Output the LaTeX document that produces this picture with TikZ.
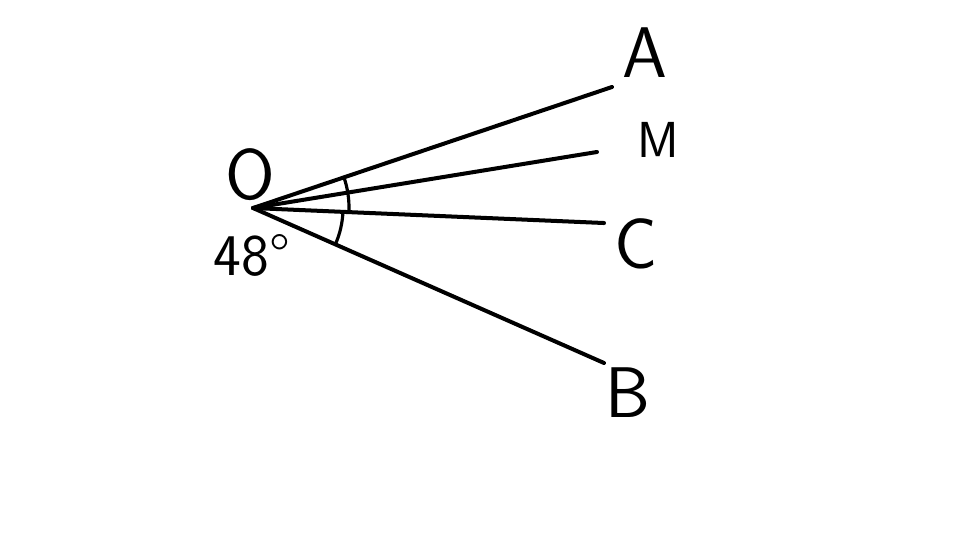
\documentclass[tikz,border=0pt]{standalone}
\usepackage{tikz}
\usepackage{amsmath}

\tikzset{
	ray/.style={line width=1.9pt, line cap=round},
	anglearc/.style={line width=1.5pt},
	letter/.style={font=\sffamily\fontsize{34}{34}\selectfont, inner sep=0pt}
}

\begin{document}
\begin{tikzpicture}
		\useasboundingbox (0, 0) rectangle (16, 9);
		\coordinate (O) at (4.217, 5.533);
		\coordinate (Aend) at (10.2, 7.55);
		\coordinate (Mend) at (9.95, 6.467);
		\coordinate (Cend) at (10.067, 5.283);
		\coordinate (Bend) at (10.067, 2.95);
		\draw[ray] (O) -- (Aend);
		\draw[ray] (O) -- (Mend);
		\draw[ray] (O) -- (Cend);
		\draw[ray] (O) -- (Bend);
		\draw[anglearc] (O) ++(18.6:1.6) arc[start angle=18.6, end angle=-2.45, radius=1.6];
		\draw[anglearc] (O) ++(-2.45:1.5) arc[start angle=-2.45, end angle=-23.7, radius=1.5];
		\node[letter] (labO) at (4.167, 6.083) {O};
		\node[letter] (labA) at (10.75, 8.117) {A};
		\node[letter, font=\sffamily\fontsize{24}{24}\selectfont] (labM) at (10.97, 6.667) {M};
		\node[letter] (labC) at (10.6, 4.933) {C};
		\node[letter] (labB) at (10.467, 2.45) {B};
		\node[letter, font=\sffamily\fontsize{28}{28}\selectfont] (lab48) at (4.2, 4.75) {48\textdegree};
	\end{tikzpicture}
\end{document}
